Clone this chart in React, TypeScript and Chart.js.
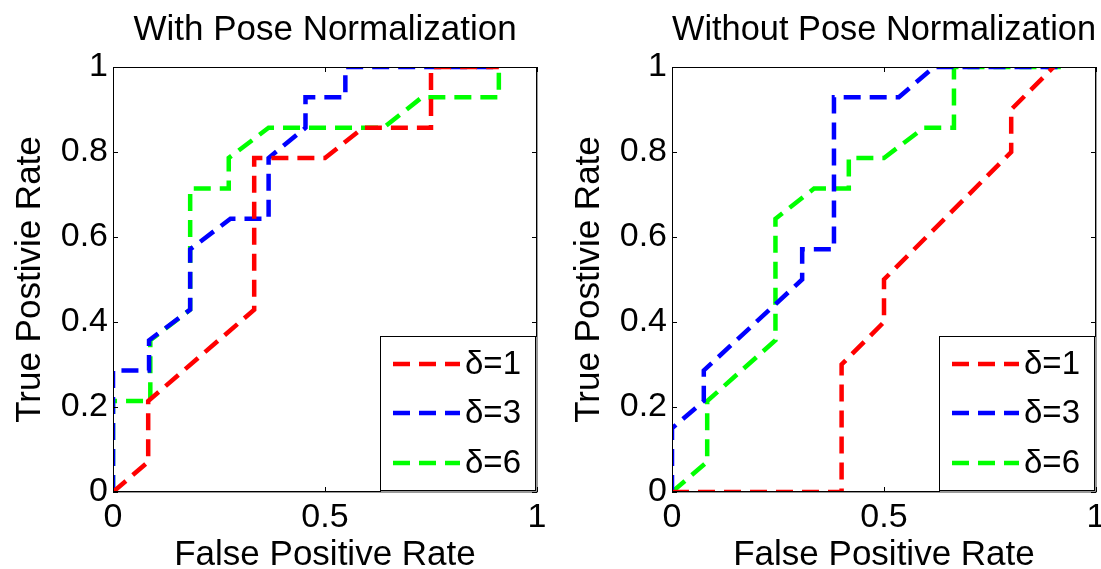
import { useEffect, useRef } from "react";
import { Chart, registerables } from "chart.js";

Chart.register(...registerables);

const FONT = "'Liberation Sans', Arial, sans-serif";

const seriesLabels = ["δ=1", "δ=3", "δ=6"];
const seriesColors = ["#ff0000", "#0000ff", "#00ff00"];
const panelTitles = ["With Pose Normalization", "Without Pose Normalization"];
const xAxisTitle = "False Positive Rate";
const yAxisTitle = "True Postivie Rate";
const xTickValues = [0, 0.5, 1];
const xTickLabels = ["0", "0.5", "1"];
const yTickValues = [0, 0.2, 0.4, 0.6, 0.8, 1];
const yTickLabels = ["0", "0.2", "0.4", "0.6", "0.8", "1"];

// Left panel: With Pose Normalization
const withD1X = [0, 0.083, 0.083, 0.333, 0.333, 0.5, 0.59, 0.75, 0.75, 0.91];
const withD1Y = [0, 0.071, 0.214, 0.429, 0.786, 0.786, 0.857, 0.857, 1, 1];
const withD3X = [0, 0, 0.085, 0.085, 0.182, 0.182, 0.277, 0.367, 0.367, 0.454, 0.454, 0.548, 0.548, 0.91];
const withD3Y = [0, 0.286, 0.286, 0.357, 0.429, 0.571, 0.643, 0.643, 0.786, 0.857, 0.929, 0.929, 1, 1];
const withD6X = [0, 0, 0.088, 0.088, 0.182, 0.182, 0.273, 0.273, 0.367, 0.638, 0.729, 0.91, 0.91];
const withD6Y = [0, 0.214, 0.214, 0.357, 0.429, 0.714, 0.714, 0.786, 0.857, 0.857, 0.929, 0.929, 1];

// Right panel: Without Pose Normalization
const withoutD1X = [0, 0.4, 0.4, 0.5, 0.5, 0.8, 0.8, 0.9];
const withoutD1Y = [0, 0, 0.3, 0.4, 0.5, 0.8, 0.9, 1];
const withoutD3X = [0, 0, 0.075, 0.075, 0.307, 0.307, 0.382, 0.382, 0.535, 0.618, 0.917];
const withoutD3Y = [0, 0.15, 0.214, 0.286, 0.5, 0.571, 0.571, 0.929, 0.929, 1, 1];
const withoutD6X = [0, 0.083, 0.083, 0.244, 0.244, 0.335, 0.417, 0.417, 0.5, 0.594, 0.665, 0.665, 0.917];
const withoutD6Y = [0, 0.071, 0.214, 0.357, 0.643, 0.714, 0.714, 0.786, 0.786, 0.857, 0.857, 1, 1];

const panels = [
  { title: panelTitles[0], xs: [withD1X, withD3X, withD6X], ys: [withD1Y, withD3Y, withD6Y] },
  { title: panelTitles[1], xs: [withoutD1X, withoutD3X, withoutD6X], ys: [withoutD1Y, withoutD3Y, withoutD6Y] },
];

const DASH = [17, 9];
const LINE_W = 4.5;

const framePlugin = {
  id: "frame",
  afterDatasetsDraw(chart: any) {
    const { ctx, chartArea: a, scales } = chart;
    ctx.save();
    // soft shadow on bottom and right edges
    ctx.strokeStyle = "#9a9a9a";
    ctx.lineWidth = 1;
    ctx.beginPath();
    ctx.moveTo(a.left + 1, a.bottom + 0.5);
    ctx.lineTo(a.right + 0.5, a.bottom + 0.5);
    ctx.lineTo(a.right + 0.5, a.top + 1);
    ctx.stroke();
    ctx.strokeStyle = "#000";
    ctx.strokeRect(a.left + 0.5, a.top + 0.5, a.right - a.left - 1, a.bottom - a.top - 1);
    const tl = 5;
    ctx.beginPath();
    for (const v of xTickValues) {
      const px = Math.round(scales.x.getPixelForValue(v)) + 0.5;
      ctx.moveTo(px, a.bottom);
      ctx.lineTo(px, a.bottom - tl);
      ctx.moveTo(px, a.top);
      ctx.lineTo(px, a.top + tl);
    }
    for (const v of yTickValues) {
      const py = Math.round(scales.y.getPixelForValue(v)) + 0.5;
      ctx.moveTo(a.left, py);
      ctx.lineTo(a.left + tl, py);
      ctx.moveTo(a.right, py);
      ctx.lineTo(a.right - tl, py);
    }
    ctx.stroke();
    ctx.restore();
  },
};

const legendBoxPlugin = {
  id: "legendBox",
  afterDraw(chart: any) {
    const { ctx, chartArea: a } = chart;
    const w = 155;
    const h = 154;
    const right = a.right - 2;
    const bottom = a.bottom - 2;
    const left = right - w;
    const top = bottom - h;
    ctx.save();
    ctx.fillStyle = "#fff";
    ctx.fillRect(left, top, w, h);
    ctx.strokeStyle = "#9a9a9a";
    ctx.lineWidth = 1;
    ctx.beginPath();
    ctx.moveTo(Math.round(left) + 1, Math.round(bottom) + 1.5);
    ctx.lineTo(Math.round(right) + 1.5, Math.round(bottom) + 1.5);
    ctx.lineTo(Math.round(right) + 1.5, Math.round(top) + 1);
    ctx.stroke();
    ctx.strokeStyle = "#000";
    ctx.strokeRect(Math.round(left) + 0.5, Math.round(top) + 0.5, w, h);
    const rows = [28, 77, 127];
    chart.data.datasets.forEach((ds: any, i: number) => {
      const y = top + rows[i];
      ctx.beginPath();
      ctx.setLineDash(DASH);
      ctx.lineWidth = LINE_W;
      ctx.strokeStyle = ds.borderColor;
      ctx.moveTo(left + 13, y);
      ctx.lineTo(left + 80, y);
      ctx.stroke();
      ctx.setLineDash([]);
      ctx.fillStyle = "#000";
      ctx.font = `33px ${FONT}`;
      ctx.textBaseline = "middle";
      ctx.textAlign = "left";
      ctx.fillText(ds.label, left + 85, y + 1);
    });
    ctx.restore();
  },
};

function Panel({ idx }: { idx: number }) {
  const ref = useRef<HTMLCanvasElement | null>(null);
  useEffect(() => {
    const p = panels[idx];
    const datasets = seriesLabels.map((label, i) => ({
      label,
      data: p.xs[i].map((x, k) => ({ x, y: p.ys[i][k] })),
      borderColor: seriesColors[i],
      backgroundColor: seriesColors[i],
      borderWidth: LINE_W,
      borderDash: DASH,
      borderCapStyle: "butt",
      borderJoinStyle: "miter",
      pointRadius: 0,
      tension: 0,
      fill: false,
      clip: 0,
    }));
    const chart = new Chart(ref.current as HTMLCanvasElement, {
      type: "line",
      data: { datasets } as any,
      options: {
        responsive: false,
        animation: false,
        events: [],
        layout: { padding: { left: 0, right: 23, top: 0, bottom: 0 } },
        plugins: {
          legend: { display: false },
          tooltip: { enabled: false },
          title: {
            display: true,
            text: p.title,
            fullSize: false,
            color: "#000",
            font: { family: FONT, size: 35, weight: "normal", lineHeight: 1.2 },
            padding: { top: 9, bottom: 16 },
          },
        },
        scales: {
          x: {
            type: "linear",
            min: 0,
            max: 1,
            afterBuildTicks: (s: any) => {
              s.ticks = xTickValues.map((v) => ({ value: v }));
            },
            afterFit: (s: any) => {
              s.height = 77;
            },
            grid: { display: false, drawTicks: false },
            border: { display: false },
            ticks: {
              color: "#000",
              padding: 5,
              maxRotation: 0,
              autoSkip: false,
              callback: (_v: any, i: number) => xTickLabels[i],
              font: { family: FONT, size: 34, lineHeight: 1.2 },
            },
            title: {
              display: true,
              text: xAxisTitle,
              color: "#000",
              font: { family: FONT, size: 35, lineHeight: 0.8 },
              padding: { top: 0, bottom: 0 },
            },
          },
          y: {
            type: "linear",
            min: 0,
            max: 1,
            afterBuildTicks: (s: any) => {
              s.ticks = yTickValues.map((v) => ({ value: v }));
            },
            afterFit: (s: any) => {
              s.width = 113;
            },
            grid: { display: false, drawTicks: false },
            border: { display: false },
            ticks: {
              color: "#000",
              padding: 5,
              autoSkip: false,
              callback: (_v: any, i: number) => yTickLabels[i],
              font: { family: FONT, size: 34, lineHeight: 1.2 },
            },
            title: {
              display: true,
              text: yAxisTitle,
              color: "#000",
              font: { family: FONT, size: 35, lineHeight: 1.2 },
              padding: { top: 9, bottom: 0 },
            },
          },
        },
      } as any,
      plugins: [framePlugin, legendBoxPlugin],
    });
    return () => chart.destroy();
  }, [idx]);
  return (
    <canvas
      ref={ref}
      width={560}
      height={569}
      style={{ position: "absolute", top: 0, left: idx === 0 ? 0 : 559, width: 560, height: 569 }}
    />
  );
}

export default function App() {
  return (
    <div
      style={{
        position: "absolute",
        left: 0,
        top: 0,
        width: 1101,
        height: 569,
        overflow: "hidden",
        background: "#fff",
      }}
    >
      <Panel idx={0} />
      <Panel idx={1} />
    </div>
  );
}
